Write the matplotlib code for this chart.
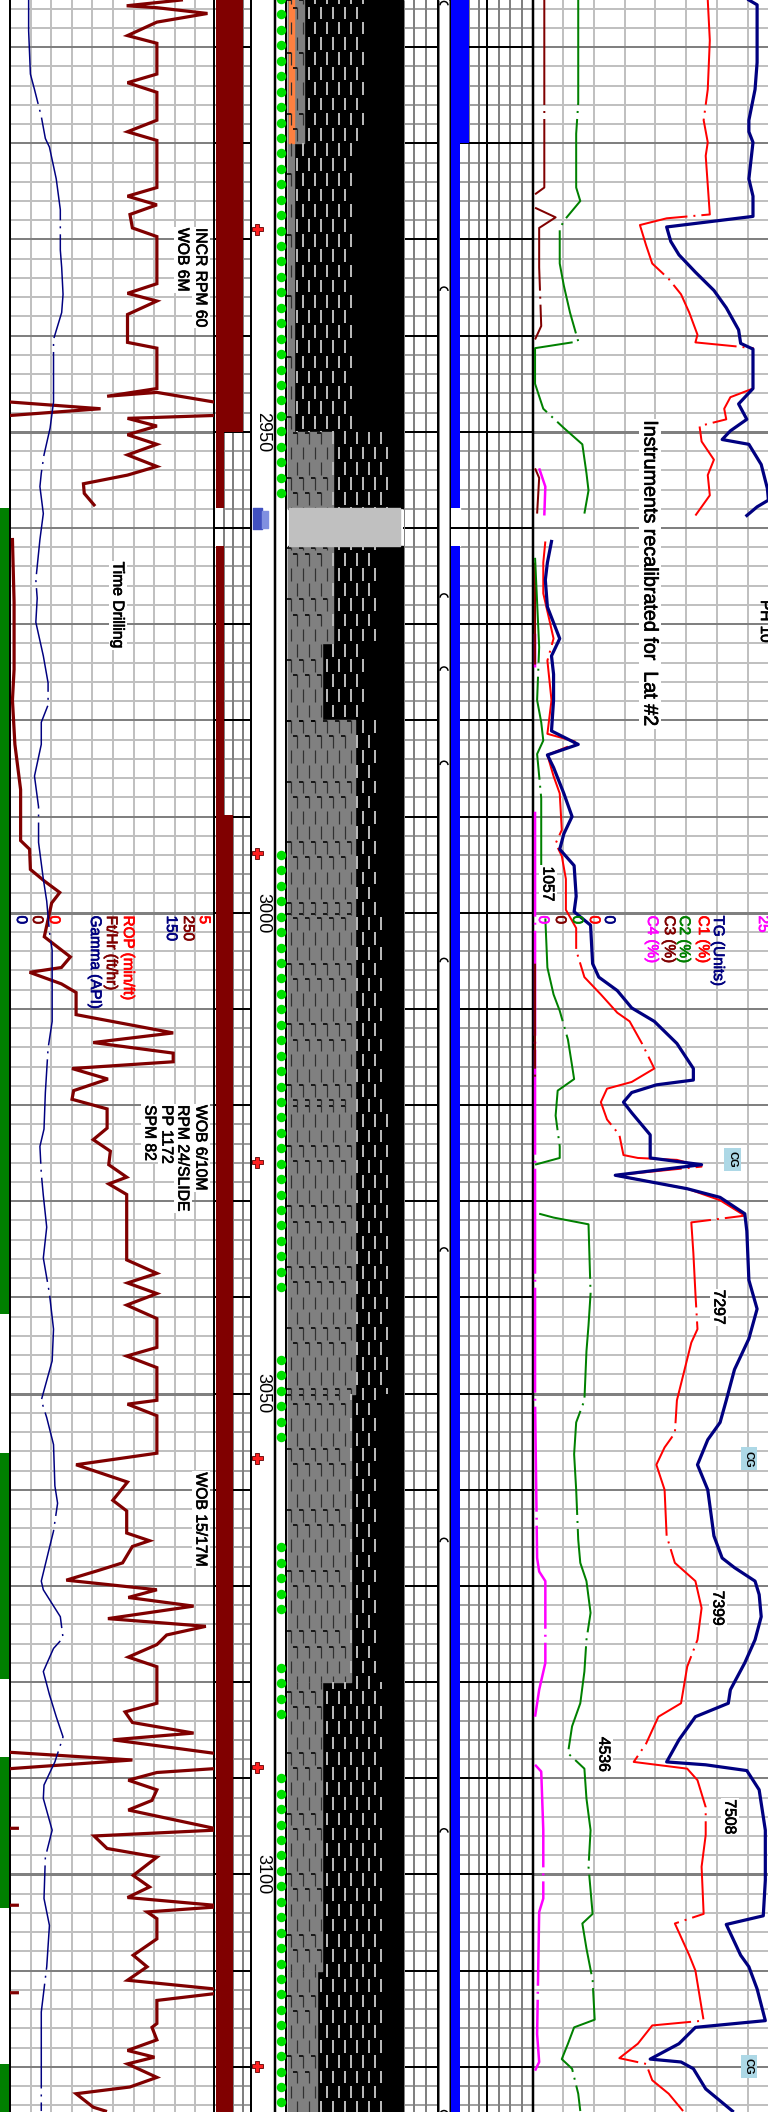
import numpy as np
import matplotlib
matplotlib.use('Agg')
import matplotlib.pyplot as plt
import matplotlib.patheffects as pe
from matplotlib.patches import Arc

plt.rcParams['font.family'] = ['Liberation Sans', 'DejaVu Sans']
plt.rcParams['lines.scale_dashes'] = False

nan = float('nan')

# Depth range of the log, feet
depth_top = 2905.1
depth_bottom = 3124.7

# ROP curve, ft/hr (nan = break, the curve wraps round the track at 250)
rop_depth = [2905.1, 2905.7, 2905.9, 2906.5, 2907.4, 2908.8, 2909.6, 2912.8, 2913.7, 2914.7, 2917.6, 2918.8, 2919.7,
             2924.6, 2925.5, 2926.4, 2927.4, 2928.8, 2929.7, 2934.6, 2935.6, 2936.4, 2937.8, 2940.7, 2941.3, 2945.5,
             2946.3, 2945.9, 2946.9, nan, 2946.9, 2947.6, 2948.3, nan, 2948.3, 2948.6, 2949.4, 2950.3, 2951.3, 2952.4,
             2953.6, 2954.5, 2955.4, 2956.4, 2957.6, nan,
             2961.2, 2967.7, 2974.7, 2977.9, 2982.5, 2987.2, 2992.5, 2993.4, 2995.5, 2996.7, 2997.9, 2999.0, 3000.2,
             3002.5, 3004.6, 3005.7, 3006.2, 3007.4, 3008.3, 3010.6, 3012.5, 3013.5, 3014.6, 3015.5, 3016.2, 3017.3,
             3018.5, 3019.4, 3020.4, 3022.4, 3023.6, 3024.8, 3026.2, 3027.5, 3028.2, 3029.3, 3036.1, 3037.5, 3038.5,
             3039.6, 3040.8, 3042.2, 3045.2, 3046.1, 3047.3, 3050.7, 3051.1, 3052.3, 3056.2, 3057.4, 3059.2, 3061.1,
             3062.2, 3064.5, 3065.3, 3065.9, 3067.6, 3068.4, 3069.4, 3070.4, 3071.2, 3072.1, 3073.4, 3074.2, 3075.1,
             3076.1, 3077.4, 3078.4, 3082.2, 3083.1, 3084.2, 3085.3, 3086.0, 3087.4, nan, 3087.3, 3088.1, 3089.0, nan,
             3089.0, 3089.4, 3090.2, 3091.2, 3092.3, 3093.3, 3095.2, nan, 3095.2, 3095.2, nan, 3095.4, 3096.0, 3097.3,
             3098.2, 3100.1, 3101.3, 3102.4, 3103.2, nan, 3103.2, 3103.2, nan, 3103.4, 3103.9, 3104.6, 3106.7, 3108.4,
             3109.6, 3111.0, 3111.9, nan, 3112.3, 3112.3, nan, 3112.4, 3113.1, 3115.5, 3115.9, 3117.2, 3118.3, 3119.0,
             3119.7, 3121.1, 3122.1, 3122.8, 3124.2, 3124.6]
rop_fthr = [210, 143, 180, 242, 180, 144, 180, 180, 144, 180, 180, 144, 180,
            180, 144, 180, 147, 150, 180, 180, 144, 180, 144, 144, 180, 180,
            119, 180, 250, nan, 0, 111, 0, nan, 250, 144, 180, 144, 180, 144,
            180, 144, 90, 91, 103, nan,
            3, 5, 5, 3, 6, 13, 13, 24, 25, 42, 61, 51, 48,
            42, 74, 63, 24, 63, 81, 81, 200, 102, 200, 200, 76, 120,
            78, 76, 119, 119, 102, 123, 121, 143, 121, 143, 143, 180, 144,
            180, 143, 180, 180, 143, 180, 180, 144, 180, 180, 81, 144, 126,
            143, 143, 171, 150, 138, 108, 69, 180, 145, 225, 120, 240, 192,
            180, 145, 180, 180, 141, 150, 225, 126, 250, nan, 0, 150, 0, nan,
            250, 180, 145, 180, 174, 145, 250, nan, 0, 9, nan, 250, 103, 119,
            180, 151, 171, 144, 250, nan, 0, 9, nan, 250, 168, 180, 180, 151,
            168, 144, 250, nan, 0, 9, nan, 250, 180, 180, 174, 180, 144, 177,
            144, 180, 147, 81, 102, 117]

# Gamma curve, API
gamma_depth = [2905.1, 2908.3, 2912.8, 2914.4, 2917.2, 2919.5, 2920.4, 2923.7, 2926.9, 2931.1, 2932.9, 2935.7, 2937.6,
               2940.4, 2943.2, 2946.9, 2949.6, 2952.4, 2954.3, 2955.7, 2958.5, 2961.2, 2965.4, 2967.3, 2969.8, 2973.3,
               2976.1, 2978.4, 2980.2, 2982.5, 2985.8, 2989, 2992.7, 2996.5, 2998.8, 3002, 3003.9, 3008.5, 3011.3,
               3014.1, 3018.7, 3022.5, 3024.3, 3027.1, 3029.4, 3032.7, 3035.9, 3039.6, 3043.3, 3046.6, 3050.7, 3052.5,
               3055.3, 3059.6, 3061.4, 3064.3, 3066.6, 3069.5, 3070.4, 3073.2, 3075.4, 3076.5, 3078.9, 3081.3, 3083.6,
               3085.7, 3088.3, 3090.7, 3092.1, 3095.4, 3098.2, 3102.5, 3105.3, 3109.6, 3114.3, 3119, 3124.6]
gamma_api = [13.7, 13.7, 15, 18, 23, 26, 29, 34, 37, 37, 38, 39, 38,
             32, 32, 32, 29.5, 25, 23, 22, 24.5, 22, 19, 20, 19, 24.5,
             28, 28, 23, 23, 18, 21, 21, 24.5, 27, 29, 31, 31, 31,
             28, 26, 25, 22, 23, 24.5, 27, 24.5, 29, 32, 31, 23, 27,
             32, 33, 35, 32, 28, 23, 24.5, 37, 39, 32, 24.5, 29, 34,
             39, 33, 25, 24.5, 31, 26, 25, 29, 27, 23, 23, 23]

# Total gas
tg_depth = [2905.1, 2905.6, 2907.9, 2911.6, 2914.4, 2917.6, 2918.8, 2919.9, 2923.7, 2925.5, 2927.6, 2928.7, 2930.2,
            2931.6, 2933.4, 2935.3, 2937.1, 2939.4, 2940.8, 2941.4, 2945.5, 2947.1, 2948.7, 2949.9, 2950.8, 2951.3,
            2953.4, 2955.9, 2957.1, 2957.8, 2958.7, nan,
            2961.4, 2963.6, 2965.4, 2968.2, 2971.5, 2973.3, 2975.2, 2977.9, 2981.1, 2982.5, 2983.6, 2984.9, 2987.6,
            2990, 2991.8, 2993.4, 2995.1, 2998.3, 2999.9, 3001.3, 3005.3, 3006.7, 3008.1, 3009.9, 3011.3, 3013.6,
            3016.2, 3017.4, 3017.9, 3018.7, 3019.7, 3020.8, 3023.1, 3025.5, 3026.2, 3027.3, 3028.7, 3029.6, 3031.3,
            3033.1, 3038.2, 3041.2, 3044.3, 3047.5, 3050.7, 3053, 3054.8, 3057.4, 3060, 3064.8, 3067.1, 3068.1,
            3069.5, 3070.9, 3073.2, 3075.6, 3078, 3080.8, 3082.2, 3083.6, 3086, 3088.3, 3088.6, 3089.2, 3091.2,
            3095.4, 3100.6, 3104.3, 3105.2, 3108.4, 3109.6, 3111.9, 3115.2, 3115.9, 3117.6, 3119.2, 3119.5, 3120.2,
            3122.3, 3124.6]
tg_units = [105, 109, 109, 109, 108, 105, 105, 107, 105, 107, 107, 65, 67,
            71, 79, 88, 94, 100, 101, 107, 107, 100, 104, 96, 92, 105,
            111, 114, 114.5, 109, 104, nan,
            9, 7, 6, 7, 13, 9, 10, 10, 9, 22, 7, 10, 15,
            19, 15, 13, 20, 21, 20, 28, 29, 32, 41, 48, 59, 70,
            78, 78, 60, 48, 44, 48, 57, 57, 82, 40, 75, 91, 103,
            104, 105, 109, 105, 98, 94, 91, 85, 80, 85, 88, 92, 98,
            108, 110, 111, 108, 103, 96, 95, 79, 71, 65, 84, 104, 110,
            113, 113, 112, 94, 101, 105, 109, 113, 79, 71, 57, 72, 78,
            84, 97]

# C1
c1_depth = [2905.1, 2909.3, 2914.4, 2917.6, 2919.9, 2921.3, 2927.4, 2927.8, 2928.5, 2930.6, 2932.5, 2934.1, 2935.7,
            2937.6, 2939.9, 2940.7, 2941.1, 2941.3, 2945.5, 2946.4, 2947.6, 2948.7, 2949.4, 2951, 2952.9, 2954.5,
            2956.6, 2958.7, nan,
            2961.4, 2963.6, 2966.8, 2969.6, 2971.5, 2973.8, 2977.9, 2981.4, 2982.3, 2983.6, 2985.8, 2987.6, 2991.4,
            2992.8, 2994.1, 2996.5, 2999.7, 3001.6, 3003.9, 3006.7, 3008.5, 3010.4, 3011.3, 3013.6, 3016.2, 3017.6,
            3018.3, 3019.7, 3021.5, 3023.1, 3025.2, 3025.5, 3025.7, 3026.4, 3027.3, 3028.7, 3029.9, 3031.5, 3032.2,
            3035.4, 3039.6, 3043.3, 3044.7, 3050.7, 3054.1, 3055.6, 3057.4, 3060, 3064.8, 3067.6, 3069.5, 3072.3,
            3075.6, 3078.4, 3082.2, 3083.6, 3086.4, 3088.3, 3089, 3090.2, 3093, 3095.9, 3099.2, 3104.1, 3105.1,
            3108.4, 3110, 3115.2, 3115.7, 3117.6, 3119.1, 3119.7, 3121.4, 3122.8, 3124.6]
c1_pct = [85, 86, 85, 83, 85, 84, 86, 65, 52, 55, 58, 66, 72,
          76, 80, 79, 98, 107, 107, 96, 93, 94, 81, 82, 88, 85,
          86, 79, nan,
          6, 5, 5, 8, 10, 7, 9, 7, 22, 7, 10, 13, 14,
          11, 14, 16, 16, 21, 21, 25, 33, 41, 47, 53, 59, 48,
          36, 33, 36, 42, 44, 51, 70, 82, 40, 75, 91, 103, 77,
          78, 79, 80, 77, 70, 69, 64, 60, 64, 65, 69, 79, 82,
          80, 75, 72, 61, 55, 49, 75, 80, 84, 84, 82, 83, 69,
          76, 79, 83, 58, 51, 42, 55, 58, 66, 73]

# C2
c2_depth = [2905.1, 2915.8, 2919, 2924.6, 2926, 2927.8, 2928.8, 2932.5, 2934.8, 2937.6, 2940.6, 2941.3, 2945, 2947.6,
            2949.6, 2951.3, 2954.3, 2956.1, 2958.5, nan,
            2963.1, 2967.7, 2972.4, 2977.9, 2980.2, 2982.1, 2983.5, 2988.1, 2991.8, 2995.1, nan,
            3000.6, 3005.7, 3008.5, 3010.2, 3013.2, 3015.9, 3017.3, 3018.5, 3021.1, 3024.3, 3025.5, 3026.2, nan,
            3031.3, 3031.7, 3032.4, 3039.6, 3042.9, 3045.6, 3050.7, 3053, 3056.3, 3060, 3065.2, 3067.6, 3069.5,
            3072.8, 3075.6, 3078.9, 3082.2, 3084.6, 3087.4, 3089, 3092.1, 3095.4, 3099.2, 3104.1, 3105.1, 3107.7,
            3111, 3115.1, 3115.9, 3117.6, 3119.2, 3120.2, 3122.8, 3124.6]
c2_pct = [22, 22, 21, 21, 23, 16, 13, 13, 15, 18, 22, 1, 1, 5,
          15, 24, 26, 27, 25, nan,
          1, 2, 3, 2, 4, 5, 2, 4, 4, 4, nan,
          6, 7, 10, 13, 17, 19, 20, 12, 11, 13, 13, 1, nan,
          3, 10, 27, 28, 27, 26, 25, 21, 20, 21, 22, 23, 26,
          28, 26, 25, 23, 19, 17, 25, 26, 28, 27, 29, 24, 26,
          29, 30, 20, 17, 14, 19, 22, 23]

# C3
c3_depth = [2905.1, 2924.6, 2925.3, nan, 2926.7, 2927.7, 2928.8, 2932.9, 2939, 2940.4, nan, 2953.8, 2954.8, 2958.5, nan,
            2963.6, 2974.2, nan, 3005.3, 3017.3]
c3_pct = [5.5, 5.5, 1, nan, 1, 11, 3, 3, 4, 1, nan, 1, 3, 2, nan, 1, 1, nan, 1, 1]

# C4
c4_depth = [2953.8, 2955.7, 2958.7, nan, 2971, 2974.5, nan, 2989.5, 3050.7, 3067.1, 3068.5, 3069.5, 3078, 3080.8,
            3083.6, nan, 3088.6, 3089.3, 3095.4, 3102.5, 3103.9, 3116.6, 3119.5, 3120.4]
c4_pct = [3, 6, 5.5, nan, 1, 1, nan, 1, 1, 2, 3, 6, 6, 3,
          1, nan, 1, 4, 5, 5, 3, 2, 3, 1]

# Lithology layers
lith_top = [2905, 2920, 2950, 2962, 2972, 2980, 3000, 3020, 3050, 3080, 3110]
lith_bottom = [2920, 2950, 2958, 2972, 2980, 3000, 3020, 3050, 3080, 3110, 3125]
lith_gray_edge = [304, 294, 333, 333, 322, 355, 355, 355, 351, 322, 317]
lith_dash_edge = [365, 353, 390, 377, 365, 377, 382, 390, 377, 382, 382]

# Strips and bars
green_top = [2957.9, 3056.2, 3087.8, 3119.7]
green_bottom = [3041.7, 3079.7, 3103.5, 3125]
rate_top = [2905, 2950, 2961.9, 2989.8]
rate_bottom = [2950, 2957.9, 2989.8, 3125]
rate_width = [27, 8, 8, 17]
blue_top = [2905, 2920, 2961.9]
blue_bottom = [2920, 2957.9, 3125]
blue_width = [18, 9, 9]
dots_top = [2905, 2994, 3046.5, 3066, 3078.5, 3090]
dots_bottom = [2957.5, 3039, 3055, 3073.5, 3083.5, 3125]
star_depth = [2928.9, 2993.8, 3025.9, 3056.7, 3088.8, 3119.9]
casing_depth = [2905.3, 2935, 2966.9, 2974.5, 2984.3, 3004.8, 3034.9, 3065.1, 3095.3, 3124.6]
cg_depth = [3025.7, 3056.8, 3120]
cg_x = [732.5, 749, 749]

fig = plt.figure(figsize=(7.68, 21.12), dpi=100)


def track_axes(left, right, xlim, z):
    a = fig.add_axes([left / 768, 0, (right - left) / 768, 1])
    a.set_xlim(*xlim)
    a.set_ylim(depth_bottom, depth_top)
    a.axis('off')
    a.patch.set_alpha(0)
    a.set_zorder(z)
    return a


ax = track_axes(0, 768, (0, 768), 1)
ax_rop = track_axes(10, 214, (0, 250), 2)
ax_gamma = track_axes(10, 214, (0, 150), 2)
ax_gas = track_axes(533, 768, (0, 114.3), 2)
ax_top = track_axes(0, 768, (0, 768), 3)

px = 0.72  # one pixel in points

# Grid of the tracks
minor = np.arange(2906, 3126, 2)
tens = np.arange(2910, 3126, 10)
fifties = np.arange(2950, 3126, 50)
wide = [(10, 214), (533, 768)]
narrow = [(214, 251), (403, 438), (451, 533)]

for x0, x1 in wide:
    ax.hlines(minor, x0, x1, color='#c0c0c0', lw=2 * px, zorder=1)
    ax.hlines(tens, x0, x1, color='#808080', lw=2 * px, zorder=1.2)
    ax.hlines(fifties, x0, x1, color='#808080', lw=3 * px, zorder=1.2)
for x0, x1 in narrow:
    ax.hlines(minor, x0, x1, color='#a0a0a0', lw=2 * px, zorder=1)

ax.vlines(10 + 20.6 * np.arange(1, 10), depth_top, depth_bottom, color='#c0c0c0', lw=2 * px, zorder=1)
ax.vlines(563 + 30.8 * np.arange(0, 7), depth_top, depth_bottom, color='#c0c0c0', lw=2 * px, zorder=1)
ax.vlines([224, 233, 243], depth_top, depth_bottom, color='#808080', lw=2 * px, zorder=1.1)
ax.vlines([414, 426], depth_top, depth_bottom, color='#808080', lw=2 * px, zorder=1.1)
ax.vlines([469, 479, 499, 510, 522], depth_top, depth_bottom, color='#808080', lw=2 * px, zorder=1.1)

# Bars
ax.barh((np.array(rate_top) + np.array(rate_bottom)) / 2, rate_width, np.array(rate_bottom) - np.array(rate_top),
        left=216, color='#800000', zorder=1.5)
ax.barh((np.array(blue_top) + np.array(blue_bottom)) / 2, blue_width, np.array(blue_bottom) - np.array(blue_top),
        left=451, color='#0000ff', zorder=1.5)
ax.barh((np.array(green_top) + np.array(green_bottom)) / 2, 10, np.array(green_bottom) - np.array(green_top),
        left=0, color='#008000', zorder=1.5)

# Blank band where no data was logged
for x0, x1 in [(214, 224), (451, 460)]:
    ax.fill_betweenx([2957.9, 2961.9], x0, x1, color='white', zorder=1.05)

# Black major lines in the narrow tracks
for x0, x1 in narrow:
    ax.hlines(tens, x0, x1, color='black', lw=2 * px, zorder=1.3)

# Lithology
ax.fill_betweenx([depth_top, 2957.9], 288, 403, color='black', zorder=2)
ax.fill_betweenx([2961.9, depth_bottom], 288, 403, color='black', zorder=2)
row_pitch = 1.578
row_anchor = 2954.7
for top, bottom, gray_edge, dash_edge in zip(lith_top, lith_bottom, lith_gray_edge, lith_dash_edge):
    ax.fill_betweenx([top, bottom], 288, gray_edge, color='#808080', zorder=2.1)
    if top == 2905:
        ax.fill_betweenx([top, bottom], 289, 294, color='#ff8040', zorder=2.2)
    rows = np.arange(np.floor((top - row_anchor) / row_pitch), np.ceil((bottom - row_anchor) / row_pitch))
    for r in rows:
        y = row_anchor + r * row_pitch
        y0, y1 = max(y, top), min(y + 1.32, bottom)
        if y1 <= y0:
            continue
        xs = np.arange(291 + 6 * (int(r) % 2), dash_edge, 12)
        light = xs[xs >= gray_edge]
        dark = xs[xs < gray_edge]
        ax.vlines(light, y0, y1, color='#b8b8b8', lw=2 * px, zorder=2.3)
        ax.vlines(dark, y0, y1, color='#303030', lw=1.2 * px, zorder=2.3)
        if int(r) % 4 < 2:
            ax.hlines(np.full(len(dark), y0 + 0.1), dark - 4, dark, color='black', lw=1.6 * px, zorder=2.3)
ax.fill_betweenx([2957.9, 2961.9], 289, 400, color='#c0c0c0', zorder=2.5)

# Borders
for x, w in [(10, 2), (214, 2), (251, 2), (275, 2.5), (286, 2), (438, 2), (450, 2), (487, 2), (533, 2.5)]:
    ax.axvline(x, color='black', lw=w * px, zorder=3)
ax.vlines([404, 439, 449], depth_top, depth_bottom, color='#808080', lw=1 * px, zorder=3)

# Casing marks and small symbols
for d in casing_depth:
    ax.add_patch(Arc((444, d + 0.35), 8, 0.8, theta1=180, theta2=360, color='black', lw=1.5 * px, zorder=4))

for top, bottom in zip(dots_top, dots_bottom):
    dot_depth = np.arange(top, bottom, 1.605)
    ax.plot(np.full(len(dot_depth), 281), dot_depth, ls='', marker='o', ms=9.5 * px, mew=0, color='#00e000', zorder=4)

ax.plot(np.full(len(star_depth), 257), star_depth, ls='', marker='P', ms=11 * px, mfc='#ff2020', mec='#600000',
        mew=0.6, zorder=4)
ax.fill_betweenx([2957.9, 2960.1], 253, 262, color='#4050c0', zorder=4)
ax.fill_betweenx([2958.2, 2960], 262, 268, color='#8090e0', zorder=4)

# Curves
log_dash = (0, (105 * px, 6 * px, 2 * px, 6 * px))
ax_gamma.plot(gamma_api, gamma_depth, color='#000080', lw=1.5 * px, ls=log_dash)
ax_rop.plot(rop_fthr, rop_depth, color='#800000', lw=3.2 * px, solid_joinstyle='miter')
ax_gas.plot(c4_pct, c4_depth, color='#ff00ff', lw=2.5 * px, ls=log_dash)
ax_gas.plot(c3_pct, c3_depth, color='#800000', lw=2 * px, ls=log_dash)
ax_gas.plot(c2_pct, c2_depth, color='#008000', lw=2 * px, ls=log_dash)
ax_gas.plot(c1_pct, c1_depth, color='#ff0000', lw=2 * px, ls=log_dash)
ax_gas.plot(tg_units, tg_depth, color='#000080', lw=3.2 * px)


# Rotated labels, all read from top to bottom
def label(x, depth, s, color='black', size=11.3, box=True):
    kw = {}
    if box:
        kw['bbox'] = dict(fc='white', ec='none', pad=0.8)
    t = ax_top.text(x, depth, s, rotation=-90, ha='center', va='top', color=color, fontsize=size, **kw)
    t.set_path_effects([pe.withStroke(linewidth=0.5, foreground=color)])


for d, s in zip([2950, 3000, 3050, 3100], ['2950', '3000', '3050', '3100']):
    ax_top.text(263, d, s, rotation=-90, ha='center', va='center', fontsize=13, color='black')

label(201, 2928.8, 'INCR RPM 60')
label(183, 2928.8, 'WOB 6M')
label(118, 2963.5, 'Time Drilling')
label(201, 3020.0, 'WOB 6/10M')
label(183, 3020.0, 'RPM 24/SLIDE')
label(167, 3020.0, 'PP 1172')
label(150, 3020.0, 'SPM 82')
label(201, 3058.2, 'WOB 15/17M')
label(650, 2948.8, 'Instruments recalibrated for  Lat #2', size=14.2)
label(765, 2967.5, 'PH 10', size=11, box=False)

label(548, 2995.2, '1057')
label(719, 3039.2, '7297')
label(718, 3070.5, '7399')
label(604, 3085.7, '4536')
label(730, 3092.2, '7508')

# Curve headers
for x, s, c in [(128, 'ROP (min/ft)', '#ff0000'), (111, 'Ft/Hr (ft/hr)', '#800000'), (95, 'Gamma (API)', '#000080')]:
    label(x, 3000.3, s, color=c, size=11, box=False)
for x, s, c in [(21, '0', '#000080'), (37, '0', '#800000'), (54, '0', '#ff0000'),
                (204, '5', '#ff0000'), (188, '250', '#800000'), (171, '150', '#000080')]:
    label(x, 3000.3, s, color=c, size=11, box=False)
for x, s, c in [(718, 'TG (Units)', '#000080'), (703, 'C1 (%)', '#ff0000'), (684, 'C2 (%)', '#008000'),
                (669, 'C3 (%)', '#800000'), (652, 'C4 (%)', '#ff00ff')]:
    label(x, 3000.3, s, color=c, size=11, box=False)
for x, s, c in [(609, '0', '#000080'), (594, '0', '#ff0000'), (577, '0', '#008000'), (560, '0', '#800000'),
                (543, '0', '#ff00ff'), (763, '25', '#ff00ff')]:
    label(x, 3000.3, s, color=c, size=11, box=False)

for d, x in zip(cg_depth, cg_x):
    ax_top.text(x, d, 'CG', rotation=-90, ha='center', va='center', fontsize=8, fontweight='bold',
                bbox=dict(fc='#add8e6', ec='none', pad=2.2))

fig.savefig('out.png', dpi=100, facecolor='white')
